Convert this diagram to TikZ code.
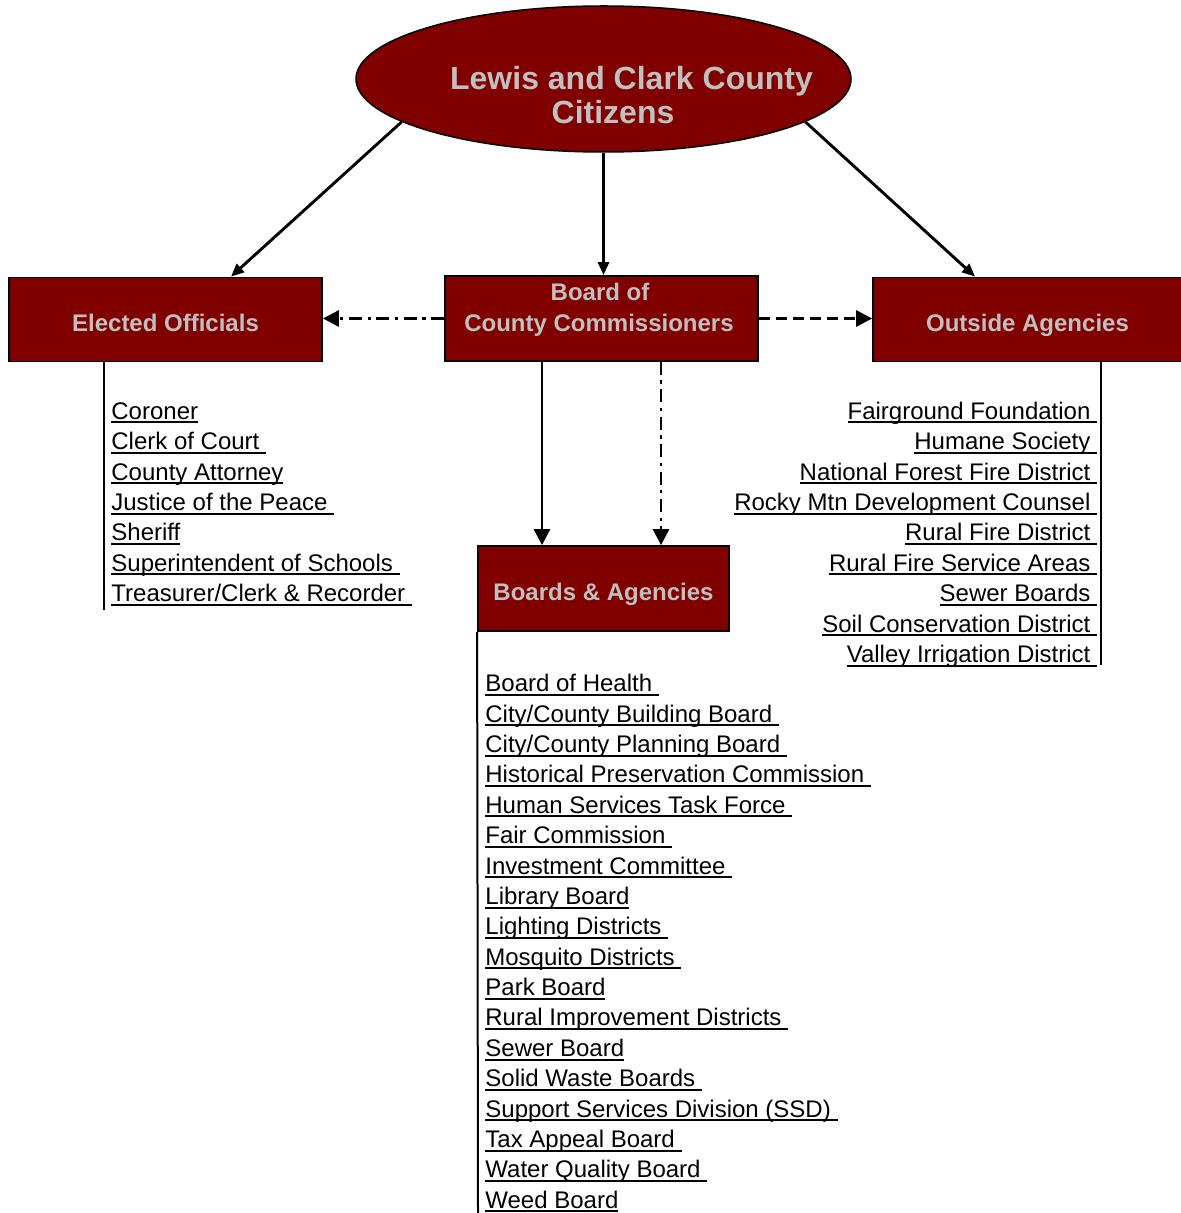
\documentclass[tikz,border=0pt]{standalone}
\usepackage{fontspec}
\setmainfont{Liberation Sans}
\usetikzlibrary{arrows.meta,shapes.geometric}

\definecolor{boxred}{HTML}{800000}
\definecolor{labelgrey}{HTML}{C0C0C0}

\newsavebox\itembox
\newcommand{\ulitem}[1]{\sbox\itembox{#1}\rlap{\rule[-2.1pt]{\wd\itembox}{1pt}}\usebox\itembox}

\tikzset{
    orgbox/.style={draw=black, line width=0.9pt, fill=boxred, text=labelgrey,
        font=\bfseries\fontsize{12}{14}\selectfont, minimum width=156.5pt,
        minimum height=42pt, inner sep=0pt, text height=12pt, text depth=0pt},
    boxtext/.style={text=labelgrey, font=\bfseries\fontsize{12}{14}\selectfont,
        inner sep=0pt, anchor=base},
    titletext/.style={text=labelgrey, font=\bfseries\fontsize{16}{18}\selectfont,
        inner sep=0pt, anchor=base},
    listitem/.style={font=\fontsize{12}{14}\selectfont, inner sep=0pt},
    listline/.style={line width=1pt},
    link/.style={line width=1.45pt, -{Triangle[length=8pt,width=8pt]}},
    toplink/.style={line width=1.45pt, -{Triangle[length=6.5pt,width=5.5pt]}},
    dashlink/.style={link, dash pattern=on 5.5pt off 3pt},
    dotlink/.style={link, dash pattern=on 6.5pt off 2.8pt on 1.6pt off 2.8pt}
}

\begin{document}
\begin{tikzpicture}[x=0.5pt, y=-0.5pt]
    \useasboundingbox (0,0) rectangle (1180,1213);

    % Citizens at the top
    \node[ellipse, draw=black, line width=0.75pt, fill=boxred, inner sep=0pt,
          minimum width=247.5pt, minimum height=73pt] (citizens) at (603.5,79) {};
    \node[titletext] (titletop)    at (631.5,89.5) {Lewis and Clark County};
    \node[titletext] (titlebottom) at (613,124)    {Citizens};

    % The three boxes of the middle row
    \node[orgbox] (elected) at (165.5,319.5) {Elected Officials};
    \node[orgbox, minimum height=42.5pt] (board) at (601.5,318.5) {};
    \node[boxtext] (boardtop)    at (600,301)   {Board of};
    \node[boxtext] (boardbottom) at (599,331.5) {County Commissioners};
    \node[orgbox, minimum width=154.5pt] (outside) at (1027.5,319.5) {Outside Agencies};

    % Boards and agencies box
    \node[orgbox, minimum width=125.5pt, minimum height=42.5pt] (boards) at (603.5,588.5) {Boards \& Agencies};

    % Connectors
    \draw[toplink] (citizens.192) -- ([xshift=32.75pt]elected.north);
    \draw[toplink] (citizens.south) -- (citizens.south |- board.north);
    \draw[toplink] (citizens.348) -- ([xshift=-26.25pt]outside.north);
    \draw[dotlink]  (board.west) -- (board.west -| elected.east);
    \draw[dashlink] (board.east) -- (board.east -| outside.west);
    \draw[link]    ([xshift=-29.75pt]board.south) coordinate (solidtop) -- (solidtop |- boards.north);
    \draw[dotlink] ([xshift=29.75pt]board.south) coordinate (dottop) -- (dottop |- boards.north);

    % Lines along the lists
    \coordinate (electedend) at (104,610);
    \draw[listline] (electedend |- elected.south) -- (electedend);
    \coordinate (outsideend) at (1100.5,665);
    \draw[listline] (outsideend |- outside.south) -- (outsideend);
    \coordinate (boardsend) at (478,1213);
    \draw[listline] (boards.south west) -- (boardsend);

    % Elected officials
    \node[listitem, anchor=base west] (coroner)    at (111,419.3) {\ulitem{Coroner}};
    \node[listitem, anchor=base west] (clerk)      at (111,449.7) {\ulitem{Clerk of Court\ }};
    \node[listitem, anchor=base west] (attorney)   at (111,480.1) {\ulitem{County Attorney}};
    \node[listitem, anchor=base west] (justice)    at (111,510.4) {\ulitem{Justice of the Peace\ }};
    \node[listitem, anchor=base west] (sheriff)    at (111,540.8) {\ulitem{Sheriff}};
    \node[listitem, anchor=base west] (schools)    at (111,571.2) {\ulitem{Superintendent of Schools\ }};
    \node[listitem, anchor=base west] (treasurer)  at (111,601.6) {\ulitem{Treasurer/Clerk \& Recorder\ }};

    % Outside agencies
    \node[listitem, anchor=base east] (fairground) at (1097.5,419.3) {\ulitem{Fairground Foundation\ }};
    \node[listitem, anchor=base east] (humane)     at (1097.5,449.7) {\ulitem{Humane Society\ }};
    \node[listitem, anchor=base east] (forest)     at (1097.5,480.1) {\ulitem{National Forest Fire District\ }};
    \node[listitem, anchor=base east] (rocky)      at (1097.5,510.4) {\ulitem{Rocky Mtn Development Counsel\ }};
    \node[listitem, anchor=base east] (ruralfire)  at (1097.5,540.8) {\ulitem{Rural Fire District\ }};
    \node[listitem, anchor=base east] (service)    at (1097.5,571.2) {\ulitem{Rural Fire Service Areas\ }};
    \node[listitem, anchor=base east] (sewers)     at (1097.5,601.6) {\ulitem{Sewer Boards\ }};
    \node[listitem, anchor=base east] (soil)       at (1097.5,632.0) {\ulitem{Soil Conservation District\ }};
    \node[listitem, anchor=base east] (valley)     at (1097.5,662.3) {\ulitem{Valley Irrigation District\ }};

    % Boards and agencies
    \node[listitem, anchor=base west] (health)     at (485,691.7)  {\ulitem{Board of Health\ }};
    \node[listitem, anchor=base west] (building)   at (485,722.1)  {\ulitem{City/County Building Board\ }};
    \node[listitem, anchor=base west] (planning)   at (485,752.5)  {\ulitem{City/County Planning Board\ }};
    \node[listitem, anchor=base west] (historical) at (485,782.8)  {\ulitem{Historical Preservation Commission\ }};
    \node[listitem, anchor=base west] (human)      at (485,813.2)  {\ulitem{Human Services Task Force\ }};
    \node[listitem, anchor=base west] (fair)       at (485,843.6)  {\ulitem{Fair Commission\ }};
    \node[listitem, anchor=base west] (investment) at (485,874.0)  {\ulitem{Investment Committee\ }};
    \node[listitem, anchor=base west] (library)    at (485,904.4)  {\ulitem{Library Board}};
    \node[listitem, anchor=base west] (lighting)   at (485,934.7)  {\ulitem{Lighting Districts\ }};
    \node[listitem, anchor=base west] (mosquito)   at (485,965.1)  {\ulitem{Mosquito Districts\ }};
    \node[listitem, anchor=base west] (park)       at (485,995.5)  {\ulitem{Park Board}};
    \node[listitem, anchor=base west] (improve)    at (485,1025.9) {\ulitem{Rural Improvement Districts\ }};
    \node[listitem, anchor=base west] (sewer)      at (485,1056.3) {\ulitem{Sewer Board}};
    \node[listitem, anchor=base west] (waste)      at (485,1086.6) {\ulitem{Solid Waste Boards\ }};
    \node[listitem, anchor=base west] (support)    at (485,1117.0) {\ulitem{Support Services Division (SSD)\ }};
    \node[listitem, anchor=base west] (tax)        at (485,1147.4) {\ulitem{Tax Appeal Board\ }};
    \node[listitem, anchor=base west] (water)      at (485,1177.8) {\ulitem{Water Quality Board\ }};
    \node[listitem, anchor=base west] (weed)       at (485,1208.2) {\ulitem{Weed Board}};
\end{tikzpicture}
\end{document}
